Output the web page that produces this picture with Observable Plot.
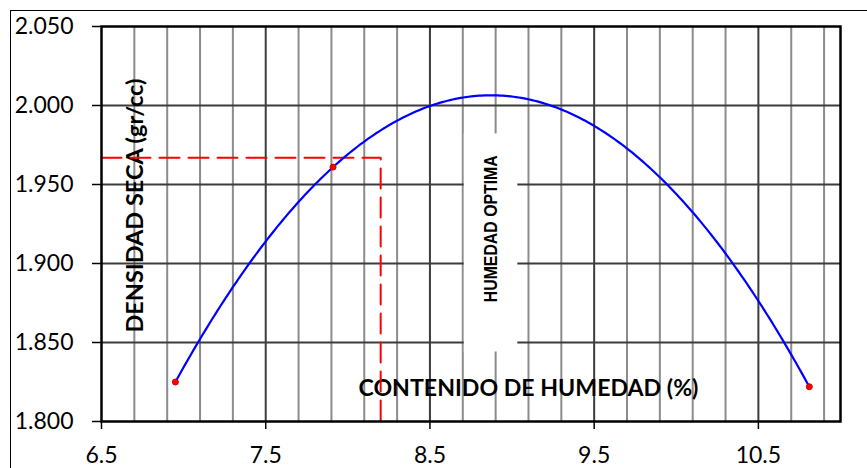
<!DOCTYPE html>
<html>
<head>
<meta charset="utf-8">
<script src="https://cdn.jsdelivr.net/npm/d3@7"></script>
<script src="https://cdn.jsdelivr.net/npm/@observablehq/plot@0.6"></script>
<style>
  html, body { margin: 0; padding: 0; background: #fff; }
  #chart { position: relative; width: 867px; height: 468px; overflow: hidden; }
  #edge { position: absolute; left: 10px; top: 10px; right: -5px; bottom: -5px;
          border-left: 1.5px solid #000; border-top: 1.5px solid #000; pointer-events: none; }
</style>
</head>
<body>
<div id="chart"><div id="edge"></div></div>
<script>
// Proctor compaction test: moisture content (%) against dry density (gr/cc)
const moisture = [6.95, 7.91, 10.81];
const dryDensity = [1.825, 1.961, 1.822];

// Reading lines for the optimum
const optimumMoisture = 8.2;
const optimumDensity = 1.967;

// Axis ticks
const xTicks = [6.5, 7.5, 8.5, 9.5, 10.5];
const yTicks = [1.800, 1.850, 1.900, 1.950, 2.000, 2.050];

// Text
const xTitle = "CONTENIDO DE HUMEDAD (%)";
const yTitle = "DENSIDAD SECA (gr/cc)";
const optimumLabel = "HUMEDAD OPTIMA";

const points = moisture.map((m, i) => ({moisture: m, density: dryDensity[i]}));

// Second-order polynomial trendline (least squares) through the test points
function polyfit2(xs, ys) {
  const m = d3.mean(xs);
  const S = [0, 0, 0, 0, 0], T = [0, 0, 0];
  xs.forEach((x, i) => {
    const u = x - m;
    for (let k = 0; k < 5; k++) S[k] += u ** k;
    for (let k = 0; k < 3; k++) T[k] += ys[i] * u ** k;
  });
  const M = [[S[0], S[1], S[2], T[0]], [S[1], S[2], S[3], T[1]], [S[2], S[3], S[4], T[2]]];
  for (let i = 0; i < 3; i++) {
    let p = i;
    for (let k = i + 1; k < 3; k++) if (Math.abs(M[k][i]) > Math.abs(M[p][i])) p = k;
    [M[i], M[p]] = [M[p], M[i]];
    for (let k = i + 1; k < 3; k++) {
      const f = M[k][i] / M[i][i];
      for (let j = i; j < 4; j++) M[k][j] -= f * M[i][j];
    }
  }
  const c = [0, 0, 0];
  for (let i = 2; i >= 0; i--) {
    let s = M[i][3];
    for (let j = i + 1; j < 3; j++) s -= M[i][j] * c[j];
    c[i] = s / M[i][i];
  }
  return {
    f: x => c[0] + c[1] * (x - m) + c[2] * (x - m) ** 2,
    vertex: m - c[1] / (2 * c[2])
  };
}

const fit = polyfit2(moisture, dryDensity);
const [xMin, xMax] = d3.extent(moisture);
const trend = d3.range(0, 241).map(i => {
  const x = xMin + (xMax - xMin) * i / 240;
  return {moisture: x, density: fit.f(x)};
});

// Gridlines: minor every 0.2, major every 1.0
const gridMinor = d3.range(1, 23).filter(i => i % 5 !== 0).map(i => +(6.5 + i * 0.2).toFixed(2));
const gridMajor = xTicks.slice(1);
const gridY = yTicks.slice(1, -1);

const peakX = fit.vertex;

const svg = Plot.plot({
  width: 867,
  height: 468,
  marginLeft: 101,
  marginTop: 26,
  marginRight: 27,
  marginBottom: 47,
  style: {fontFamily: "Lato, sans-serif", fontSize: "23px", color: "#000", background: "transparent"},
  x: {domain: [6.5, 11.0]},
  y: {domain: [1.8, 2.05]},
  marks: [
    Plot.ruleX(gridMinor, {stroke: "#8c8c8c", strokeWidth: 2}),
    Plot.ruleX(gridMajor, {stroke: "#3c3c3c", strokeWidth: 2}),
    Plot.ruleY(gridY, {stroke: "#3c3c3c", strokeWidth: 2}),
    // white backing behind the optimum label
    Plot.rect([{x1: peakX - 0.163, x2: peakX + 0.163, y1: 1.844, y2: 1.982}],
      {x1: "x1", x2: "x2", y1: "y1", y2: "y2", fill: "#fff"}),
    Plot.text([yTitle], {x: 6.707, y: 1.9367, rotate: -90, fontWeight: "bold",
      fontSize: 23, fontFamily: "Lato, sans-serif", fill: "#000", textAnchor: "middle", lineAnchor: "middle"}),
    Plot.text([xTitle], {x: 9.1, y: 1.8205, fontWeight: "bold",
      fontSize: 23, fontFamily: "Lato, sans-serif", fill: "#000", textAnchor: "middle", lineAnchor: "middle"}),
    Plot.line([[6.5, optimumDensity], [optimumMoisture, optimumDensity], [optimumMoisture, 1.8]],
      {stroke: "#ff0000", strokeWidth: 2, strokeDasharray: "20,9"}),
    Plot.line(trend, {x: "moisture", y: "density", stroke: "#0000ff", strokeWidth: 2.2}),
    Plot.dot(points, {x: "moisture", y: "density", r: 3, fill: "#ff0000", stroke: "#cc0000", strokeWidth: 1}),
    Plot.text([optimumLabel], {x: peakX, y: 1.922, rotate: -90, fontWeight: "bold",
      fontSize: 18, fontFamily: "'Liberation Sans', Arial, sans-serif", fill: "#000",
      textAnchor: "middle", lineAnchor: "middle"}),
    Plot.frame({stroke: "#000", strokeWidth: 2.5}),
    Plot.axisX(xTicks, {tickSize: 8, tickPadding: 17, strokeWidth: 1.5,
      tickFormat: d3.format(".1f"), label: null}),
    Plot.axisY(yTicks, {tickSize: 9, tickPadding: 19, strokeWidth: 1.5,
      tickFormat: d3.format(".3f"), label: null})
  ]
});

// Fit the titles to their set lengths
const textLengths = {[yTitle]: 254, [xTitle]: 340, [optimumLabel]: 147};
d3.select(svg).selectAll("text").each(function () {
  const t = this.textContent;
  if (t in textLengths) {
    this.setAttribute("textLength", textLengths[t]);
    this.setAttribute("lengthAdjust", "spacingAndGlyphs");
  }
});

document.getElementById("chart").prepend(svg);
</script>
</body>
</html>
